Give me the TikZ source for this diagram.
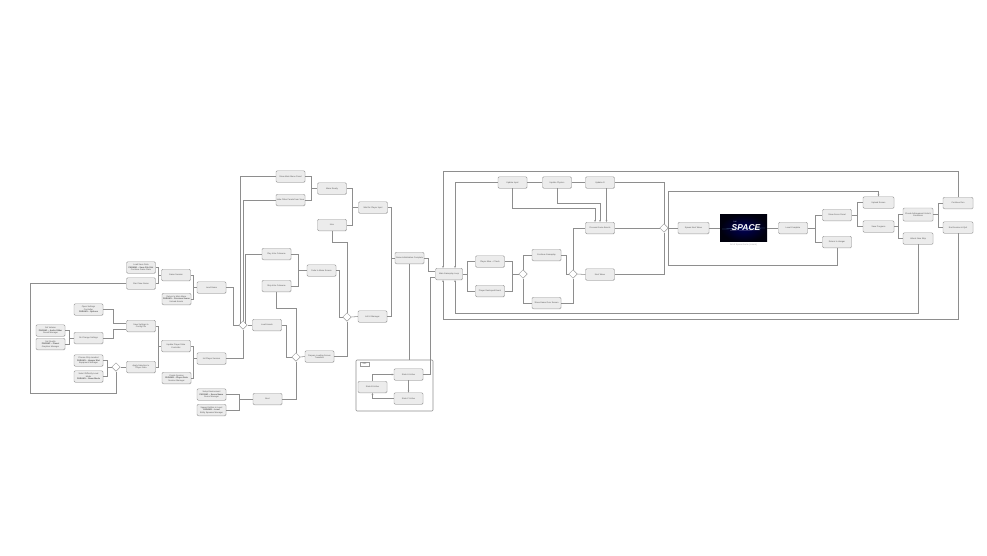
\documentclass[tikz,border=0pt]{standalone}
\usepackage{fontspec}
\setmainfont{Liberation Sans}
\usetikzlibrary{shapes.geometric,arrows.meta,shadows}
\definecolor{bxd}{HTML}{9A9A9A}
\definecolor{bxf}{HTML}{ECECEC}
\definecolor{lnc}{HTML}{8E8E8E}
\definecolor{txt}{HTML}{555555}
\tikzset{
 box/.style={draw=bxd, fill=bxf, rounded corners=1.2pt, line width=0.45pt, minimum width=29pt, minimum height=11.5pt, inner sep=0.6pt, align=center, font=\fontsize{2.1}{2.5}\selectfont, text=txt, drop shadow={shadow xshift=0.4pt, shadow yshift=-0.5pt, opacity=0.25}},
 dia/.style={diamond, draw=bxd, fill=white, line width=0.5pt, minimum width=8.5pt, minimum height=8.5pt, inner sep=0pt},
 wire/.style={draw=lnc, line width=0.55pt},
 warr/.style={wire, -{Stealth[length=2pt,width=1.7pt]}},
 frm/.style={draw=lnc, line width=0.55pt},
}
\begin{document}
\begin{tikzpicture}[x=1pt,y=-1pt]
\useasboundingbox (0,0) rectangle (987,555);
\fill[white] (0,0) rectangle (987,555);

% ---------- left area ----------
\node[box] (A1) at (141,267.5) {Load Save Data\\\textbf{PARAM1 -- Save File Slot}\\Continue Game State};
\node[box] (A2) at (141,283.5) {Start New Game};
\node[box] (A3) at (176,275) {Game Session};
\node[box] (A4) at (176.5,299) {Return to Main Menu\\\textbf{PARAM1 -- Previous Scene}\\Unload Assets};
\node[box] (A5) at (211.5,287.5) {Load Game};
\node[box] (B1) at (88.5,309.5) {Open Settings\\Controller\\\textbf{PARAM1 -- Options}};
\node[box] (B2) at (50.5,330.5) {Set Volume\\\textbf{PARAM1 -- Audio Slider}\\Sound Manager};
\node[box] (B3) at (88.5,338) {On Change Settings};
\node[box] (B4) at (50.5,344) {Set Quality\\\textbf{PARAM1 -- Preset}\\Graphics Manager};
\node[box] (B5) at (141,326) {Save Settings to\\Config File};
\node[box] (B6) at (88.5,360.5) {Choose Ship Loadout\\\textbf{PARAM1 -- Hangar Slot}\\Equipment Manager};
\node[box] (B7) at (88.5,376.5) {Select Difficulty Level\\Mode\\\textbf{PARAM1 -- Game Mode}};
\node[dia] (D1) at (116,367) {};
\node[box] (B8) at (141,367) {Apply Selection to\\Player Data};
\node[box] (C1) at (176,346) {Update Player State\\Controller};
\node[box] (C2) at (176.5,378) {Create Session\\\textbf{PARAM1 -- Player Data}\\Session Manager};
\node[box] (C3) at (211.5,358.5) {Init Player Session};
\node[box] (E1) at (211.5,394.5) {Setup Environment\\\textbf{PARAM1 -- Scene Name}\\Scene Manager};
\node[box] (E2) at (211.5,410) {Spawn Entities in Level\\\textbf{PARAM1 -- Level}\\Entity Spawner Manager};

% ---------- middle area ----------
\node[dia] (D2) at (243,325) {};
\node[box] (F1) at (290.5,176.5) {Show Main Menu Panel};
\node[box] (F2) at (290.5,200) {Hide Other Panels from View};
\node[box] (F3) at (332,188.5) {Menu Ready};
\node[box] (F4) at (373,207.5) {Wait for Player Input};
\node[box] (F5) at (332,225) {Intro};
\node[box] (G1) at (276.5,254) {Play Intro Cutscene};
\node[box] (G2) at (276.5,286) {Skip Intro Cutscene};
\node[box] (G3) at (321.5,270.5) {Fade to Menu Screen};
\node[box] (H1) at (267,325) {Load Assets};
\node[dia] (D3) at (347,317) {};
\node[box] (H2) at (372.5,316.5) {Init UI Manager};
\node[dia] (D4) at (296,357) {};
\node[box] (I1) at (319.5,356.5) {Prepare Loading Screen\\Transition};
\node[box] (J1) at (267.5,399) {Boot};
\node[box] (L1) at (409.5,258) {Game Initialization Complete};

% frame K
\draw[frm, rounded corners=1pt] (356,360) rectangle (433,411);
\node[draw=bxd, fill=white, line width=0.4pt, minimum width=9pt, minimum height=4.5pt, inner sep=0pt, font=\fontsize{2}{2.4}\selectfont, text=txt] (tag) at (364.5,364) {SSP};
\node[box] (K1) at (408.5,374.5) {State A Active};
\node[box] (K2) at (372.5,387) {State B Active};
\node[box] (K3) at (408.5,398.5) {State C Active};
\coordinate (Ktop) at (409.5,360);

% ---------- right area ----------
\node[box, minimum width=27pt] (M1) at (449,274) {Main Gameplay Loop};
\node[box] (N1) at (512.5,182.5) {Update Input};
\node[box] (N2) at (557,182.5) {Update Physics};
\node[box] (N3) at (600,182.5) {Update AI};
\node[box] (N4) at (600,228) {Process Game Events};
\node[box] (O1) at (490,261.5) {Player Alive -- Check};
\node[box] (O2) at (490,291) {Player Destroyed Event};
\node[dia] (D5) at (523,274) {};
\node[box] (P1) at (546.5,255) {Continue Gameplay};
\node[box] (P2) at (546.5,303) {Show Game Over Screen};
\node[dia] (D6) at (573,274) {};
\node[box] (P3) at (600,274.5) {Next Wave};
\node[dia] (D7) at (664,228) {};
\node[box, minimum width=31pt] (Q1) at (693.5,228) {Spawn Next Wave};
% image
\node[inner sep=0pt, minimum width=47pt, minimum height=27pt] (IMG) at (743.5,228) {};
\shade[inner color=blue!35!black, outer color=black!95!blue] (720,214.5) rectangle (767,241.5);
\draw[cyan!40, line width=0.3pt, opacity=0.6] (722,229) -- (765,228);
\draw[white, line width=0.2pt, opacity=0.5] (730,230.5) -- (760,230);
\node[font=\bfseries\itshape\fontsize{8.5}{8.5}\selectfont, text=white] (logo) at (746,227.5) {SPACE};
\node[font=\fontsize{1.6}{1.8}\selectfont, text=white!80!blue] (logo2) at (735,221.5) {THE};
\node[font=\fontsize{2.2}{2.6}\selectfont, text=gray!70] (cap) at (743.5,244.5) {Art of Space Game (Lorem)};
\node[box] (Q2) at (793,228) {Level Complete};
\node[box] (Q3) at (837,215) {Show Score Panel};
\node[box] (Q4) at (837,242) {Return to Hangar};
\node[box, minimum width=31pt] (R1) at (878.5,202.5) {Upload Scores};
\node[box, minimum width=31pt] (R2) at (878.5,226.5) {Save Progress};
\node[box, minimum width=30pt, minimum height=13pt] (S1) at (918,214.5) {Check Achievement Unlock\\Conditions};
\node[box, minimum width=30pt] (S2) at (918,238.5) {Unlock New Ship};
\node[box, minimum width=30pt] (T1) at (958,203) {Continue Run};
\node[box, minimum width=30pt] (T2) at (958,227.5) {End Session \& Quit};

% ---------- connectors: left ----------
\draw[wire] (A1.east) -- (158.5,267.5) |- (A3.west);
\draw[wire] (A2.east) -- (158.5,283.5) |- (A3.west);
\draw[wire] (A3.east) -- (193.5,275) |- (A5.west);
\draw[wire] (A4.east) -- (193.5,299) |- (A5.west);
\draw[wire] (A2.west) -- (30,283.5) -- (30,393) -- (116,393) -- (D1.south);
\draw[wire] (B1.east) -- (113,309.5) -- (113,323) -- (B5.west |- 0,323);
\draw[wire] (B3.east) -- (113,338) -- (113,329) -- (B5.west |- 0,329);
\draw[wire] (B2.east) -- (69.5,330.5) |- (B3.west);
\draw[wire] (B4.east) -- (69.5,344) |- (B3.west);
\draw[wire] (B6.east) -- (107,360.5) |- (D1.west);
\draw[wire] (B7.east) -- (107,376.5) |- (D1.west);
\draw[wire] (D1.east) -- (B8.west);
\draw[wire] (B5.east) -- (158.5,326) |- (C1.west);
\draw[wire] (B8.east) -- (158.5,367) |- (C1.west);
\draw[wire] (C1.east) -- (193.5,346) |- (C3.west);
\draw[wire] (C2.east) -- (193.5,378) |- (C3.west);
\draw[wire] (A5.east) -- (233,287.5) |- (D2.west);
\draw[wire] (C3.east) -| (D2.south);

% ---------- connectors: middle ----------
\draw[wire] (240.5,323.5) -- (240.5,176.5) -- (F1.west);
\draw[wire] (D2.north) -- (243,200) -- (F2.west);
\draw[wire] (245.5,323.5) -- (245.5,254) -- (G1.west);
\draw[wire] (D2.east) -- (H1.west);
\draw[wire] (F1.east) -- (311,176.5) |- (F3.west);
\draw[wire] (F2.east) -- (311,200) |- (F3.west);
\draw[wire] (F3.east) -- (352,188.5) |- (F4.west);
\draw[wire] (F5.east) -- (352,225) |- (F4.west);
\draw[wire] (F5.south) -- (332,242) -| (D3.north);
\draw[wire] (G1.east) -- (298,254) |- (G3.west);
\draw[wire] (G2.east) -- (298,286) |- (G3.west);
\draw[wire] (G3.east) -- (339,270.5) |- (D3.west);
\draw[wire] (D3.east) -- (H2.west);
\draw[wire] (I1.east) -| (D3.south);
\draw[wire] (H1.east) -- (286,325) |- (D4.west);
\draw[wire] (G2.south) -- (276.5,308) -| (D4.north);
\draw[wire] (D4.east) -- (I1.west);
\draw[wire] (E1.east) -- (239,394.5) |- (J1.west);
\draw[wire] (E2.east) -- (239,410) |- (J1.west);
\draw[wire] (J1.east) -| (D4.south);
\draw[wire] (F4.east) -- (391,207.5) |- (L1.west);
\draw[wire] (H2.east) -- (391,316.5) |- (L1.west);
\draw[wire] (L1.south) -- (Ktop);
\draw[warr] (K2.north) |- (K1.west);
\draw[warr] (K1.south) -- (K3.north);
\draw[warr] (K3.west) -| (K2.south);
\draw[wire] (K1.east) -- (430,374.5) -- (430,277.5) -- (M1.west |- 0,277.5);
\draw[wire] (L1.east) -- (428,258) -- (428,271) -- (M1.west |- 0,271);

% ---------- connectors: right ----------
\draw[warr] (T1.north) -- (958,171) -- (443,171) -- (M1.north -| 443,0);
\draw[warr] (T2.south) -- (958,319) -- (443,319) -- (M1.south -| 443,0);
\draw[warr] (N1.west) -- (455,182.5) -- (M1.north -| 455,0);
\draw[warr] (S2.south) -- (918,313) -- (455,313) -- (M1.south -| 455,0);
\draw[wire] (M1.east) -- (467,274) |- (O1.west);
\draw[wire] (M1.east) -- (467,274) |- (O2.west);
\draw[wire] (O1.east) -- (512,261.5) |- (D5.west);
\draw[wire] (O2.east) -- (512,291) |- (D5.west);
\draw[wire] (D5.north) |- (P1.west);
\draw[wire] (D5.south) |- (P2.west);
\draw[wire] (P1.east) -- (566,255) |- (D6.west);
\draw[wire] (P2.east) -| (D6.south);
\draw[wire] (D6.north) |- (N4.west);
\draw[wire] (D6.east) -- (P3.west);
\draw[wire] (N1.east) -- (N2.west);
\draw[wire] (N2.east) -- (N3.west);
\draw[warr] (N1.south) -- (512.5,208) -- (595,208) -- (N4.north -| 595,0);
\draw[warr] (N2.south) -- (557,203.5) -- (600,203.5) -- (N4.north);
\draw[warr] (N3.south -| 606.5,0) -- (N4.north -| 606.5,0);
\draw[wire] (N3.east) -| (D7.north);
\draw[wire] (N4.east) -- (D7.west);
\draw[wire] (P3.east) -| (D7.south);
\draw[wire] (D7.east) -- (Q1.west);
\draw[wire] (Q1.east) -- (IMG.west);
\draw[wire] (IMG.east) -- (Q2.west);
\draw[wire] (Q2.east) -- (815,228) |- (Q3.west);
\draw[wire] (Q2.east) -- (815,228) |- (Q4.west);
\draw[warr] (Q4.south) -- (837,265) -- (668,265) -- (668,191) -- (878.5,191) -- (R1.north);
\draw[wire] (Q3.east) -- (857.5,215) |- (R1.west);
\draw[wire] (Q3.east) -- (857.5,215) |- (R2.west);
\draw[wire] (R2.east) -- (898.5,226.5) |- (S1.west);
\draw[wire] (R2.east) -- (898.5,226.5) |- (S2.west);
\draw[wire] (S1.east) -- (938.5,214.5) |- (T1.west);
\draw[wire] (S1.east) -- (938.5,214.5) |- (T2.west);
\end{tikzpicture}
\end{document}
